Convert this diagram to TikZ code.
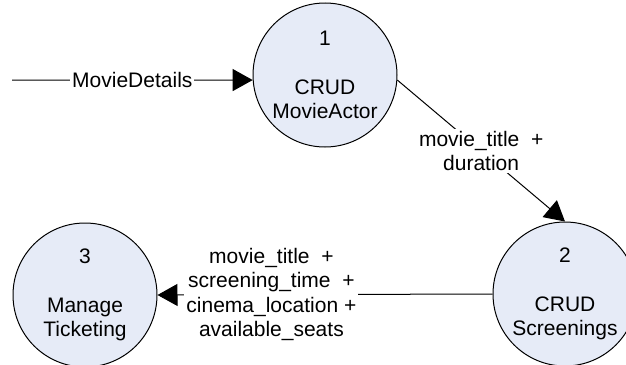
\documentclass[tikz,border=0pt]{standalone}
\usepackage{fontspec}
\setmainfont{Liberation Sans}
\usetikzlibrary{arrows.meta}
\definecolor{procfill}{RGB}{230,235,247}
\tikzset{
  proc/.style={circle, draw=black, line width=0.5pt, fill=procfill, inner sep=0pt, minimum size=72pt, align=center, font=\fontsize{10.5}{12.25}\selectfont},
  flow/.style={line width=0.5pt, -{Triangle[length=10pt,width=11pt]}},
  flowlabel/.style={fill=white, inner sep=1pt, align=center, font=\fontsize{10.5}{12.25}\selectfont}
}

\begin{document}
\begin{tikzpicture}[x=0.5pt,y=-0.5pt]
  \clip (0,0) rectangle (626,364);

  \node[proc] (p1) at (325,75) {1\\[12.25pt]CRUD\\MovieActor};
  \node[proc] (p2) at (565,294) {2\\[12.25pt]CRUD\\Screenings};
  \node[proc] (p3) at (85,295) {3\\[12.25pt]Manage\\Ticketing};

  \coordinate (src) at (12,80);
  \draw[flow] (src) -- (p1.184) node[flowlabel,midway] {MovieDetails};

  \draw[flow] (p1.-4) -- (p2.north) node[flowlabel,midway] {movie\_title\ \ +\\duration};

  \draw[flow] (p2.west) -- (p3.east)
    node[flowlabel,pos=0.66] {movie\_title\ \ +\\screening\_time\ \ +\\cinema\_location +\\available\_seats};
\end{tikzpicture}
\end{document}
